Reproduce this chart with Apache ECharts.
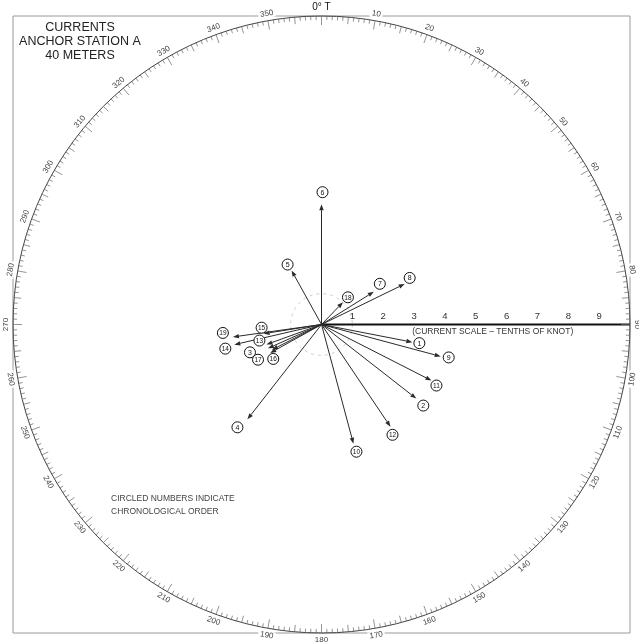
<!DOCTYPE html>
<html>
<head>
<meta charset="utf-8">
<script src="https://cdn.jsdelivr.net/npm/echarts@6/dist/echarts.min.js"></script>
<style>
  html, body { margin: 0; padding: 0; background: #fff; }
  #chart { width: 639px; height: 644px; }
</style>
</head>
<body>
<div id="chart"></div>
<script>
// Current observations at 40 m, listed in chronological order
const obsOrder    = [1, 2, 3, 4, 5, 6, 7, 8, 9, 10, 11, 12, 13, 14, 15, 16, 17, 18, 19];
// direction the current sets toward, degrees true
const bearingDeg  = [101, 128, 246, 218, 331, 0, 58, 64, 105, 165, 117, 146, 250, 257, 261, 241, 243, 44, 262];
// speed, tenths of a knot
const speedTenths = [3.0, 3.9, 1.9, 3.9, 2.0, 3.9, 2.0, 3.0, 4.0, 4.0, 4.0, 4.0, 1.9, 2.9, 1.9, 1.9, 1.8, 1.0, 2.9];

// where each circled number sits relative to its arrow tip (pixels)
const labelOffset = [
  [7, 1], [7, 7], [-18, 4], [-10, 8], [-4, -6], [1, -12], [6, -8], [5, -6], [8, 1], [3, 8],
  [5, 5], [2, 8], [-7, -4], [-9, 4], [-2, -6], [3, 6], [-14, 10], [5, -5], [-10, -4]
];

// speed scale drawn along the 90° radius
const scaleTicks = [1, 2, 3, 4, 5, 6, 7, 8, 9];
const scaleMax = 10;
const scaleTitle = '(CURRENT SCALE – TENTHS OF KNOT)';

// compass ring: one tick per degree, numbered every 10°
const ringDegrees = Array.from({ length: 360 }, (_, i) => i);

const vectorData = obsOrder.map((n, i) => {
  const a = bearingDeg[i] * Math.PI / 180;
  return [speedTenths[i] * Math.sin(a), speedTenths[i] * Math.cos(a), n, labelOffset[i][0], labelOffset[i][1]];
});

const INK = '#2a2a2a';
const FONT = '"Liberation Sans", Arial, sans-serif';

function radiusPx(api) {
  const c = api.coord([0, 0]);
  return [c, api.coord([scaleMax, 0])[0] - c[0]];
}

function renderRing(params, api) {
  const d = api.value(0);
  const [c, R] = radiusPx(api);
  const a = d * Math.PI / 180;
  const ux = Math.sin(a), uy = -Math.cos(a);
  const len = d % 10 === 0 ? 9 : (d % 5 === 0 ? 7 : 4);
  const children = [{
    type: 'line',
    shape: { x1: c[0] + ux * R, y1: c[1] + uy * R, x2: c[0] + ux * (R - len), y2: c[1] + uy * (R - len) },
    style: { stroke: '#666', lineWidth: 0.7 }
  }];
  if (d % 10 === 0) {
    const top = d <= 90 || d >= 270;
    const rot = top ? -a : (180 - d) * Math.PI / 180;
    const rr = R + (d === 0 ? 9 : 7);
    children.push({
      type: 'text',
      x: c[0] + ux * rr,
      y: c[1] + uy * rr,
      rotation: rot,
      z2: 5,
      style: {
        text: d === 0 ? '0° T' : String(d),
        fill: d === 0 ? '#111' : '#444',
        font: (d === 0 ? '10px ' : '8px ') + FONT,
        align: 'center',
        verticalAlign: 'middle',
        backgroundColor: '#fff',
        padding: [0, 2]
      }
    });
  }
  return { type: 'group', children };
}

function renderFrame(params, api) {
  const [c, R] = radiusPx(api);
  const tl = api.coord([-scaleMax, scaleMax]);
  const br = api.coord([scaleMax, -scaleMax]);
  const unit = R / scaleMax;
  const children = [
    { type: 'rect', shape: { x: tl[0], y: tl[1], width: br[0] - tl[0], height: br[1] - tl[1] },
      style: { fill: 'none', stroke: '#9a9a9a', lineWidth: 1 }, z2: 0 },
    { type: 'circle', shape: { cx: c[0], cy: c[1], r: R },
      style: { fill: 'none', stroke: '#444', lineWidth: 1 }, z2: 1 },
    { type: 'circle', shape: { cx: c[0], cy: c[1], r: unit },
      style: { fill: 'none', stroke: '#c0c0c0', lineWidth: 0.8, lineDash: [3, 4] }, z2: 1 },
    { type: 'line', shape: { x1: c[0], y1: c[1], x2: c[0] + R, y2: c[1] },
      style: { stroke: '#111', lineWidth: 2 }, z2: 2 }
  ];
  scaleTicks.forEach(t => {
    const p = api.coord([t, 0]);
    children.push({
      type: 'text', x: p[0], y: p[1] - 8, z2: 3,
      style: { text: String(t), fill: '#333', font: '9.5px ' + FONT, align: 'center', verticalAlign: 'middle' }
    });
  });
  const m = api.coord([5.55, 0]);
  children.push({
    type: 'text', x: m[0], y: m[1] + 7, z2: 3,
    style: { text: scaleTitle, fill: '#333', font: '8.5px ' + FONT, align: 'center', verticalAlign: 'middle' }
  });
  return { type: 'group', children };
}

function renderVector(params, api) {
  const c = api.coord([0, 0]);
  const p = api.coord([api.value(0), api.value(1)]);
  const n = api.value(2);
  const ox = api.value(3), oy = api.value(4);
  const dx = p[0] - c[0], dy = p[1] - c[1];
  const L = Math.sqrt(dx * dx + dy * dy) || 1;
  const ux = dx / L, uy = dy / L;
  const hl = 6, hw = 2.2;
  const bx = p[0] - ux * hl, by = p[1] - uy * hl;
  const lx = p[0] + ox, ly = p[1] + oy;
  return {
    type: 'group',
    children: [
      { type: 'line', shape: { x1: c[0], y1: c[1], x2: bx, y2: by },
        style: { stroke: INK, lineWidth: 1 } },
      { type: 'polygon', shape: { points: [[p[0], p[1]], [bx - uy * hw, by + ux * hw], [bx + uy * hw, by - ux * hw]] },
        style: { fill: INK } },
      { type: 'circle', shape: { cx: lx, cy: ly, r: 5.5 },
        style: { fill: '#fff', stroke: '#111', lineWidth: 1 }, z2: 4 },
      { type: 'text', x: lx, y: ly + 0.5, z2: 5,
        style: { text: String(n), fill: '#111', font: (n >= 10 ? '6.5px ' : '7px ') + FONT, align: 'center', verticalAlign: 'middle' } }
    ]
  };
}

const chart = echarts.init(document.getElementById('chart'), null, { renderer: 'canvas' });
chart.setOption({
  backgroundColor: '#ffffff',
  animation: false,
  grid: { left: 13, top: 16, width: 617, height: 617, containLabel: false },
  xAxis: { type: 'value', min: -scaleMax, max: scaleMax, show: false },
  yAxis: { type: 'value', min: -scaleMax, max: scaleMax, show: false },
  graphic: [
    { type: 'text', x: 80, y: 21, z: 10,
      style: { text: 'CURRENTS\nANCHOR STATION A\n40 METERS', fill: '#222', font: '12.5px ' + FONT,
               align: 'center', verticalAlign: 'top', lineHeight: 14 } },
    { type: 'text', x: 111, y: 492, z: 10,
      style: { text: 'CIRCLED NUMBERS INDICATE\nCHRONOLOGICAL ORDER', fill: '#444', font: '8.5px ' + FONT,
               lineHeight: 13, verticalAlign: 'top' } }
  ],
  series: [
    { type: 'custom', coordinateSystem: 'cartesian2d', data: [[0, 0]], renderItem: renderFrame, silent: true, z: 1 },
    { type: 'custom', coordinateSystem: 'cartesian2d', data: ringDegrees.map(d => [d]), renderItem: renderRing, silent: true, z: 2,
      encode: { x: -1, y: -1 } },
    { type: 'custom', coordinateSystem: 'cartesian2d', data: vectorData, renderItem: renderVector, silent: true, z: 3,
      encode: { x: 0, y: 1 } }
  ]
});
</script>
</body>
</html>
